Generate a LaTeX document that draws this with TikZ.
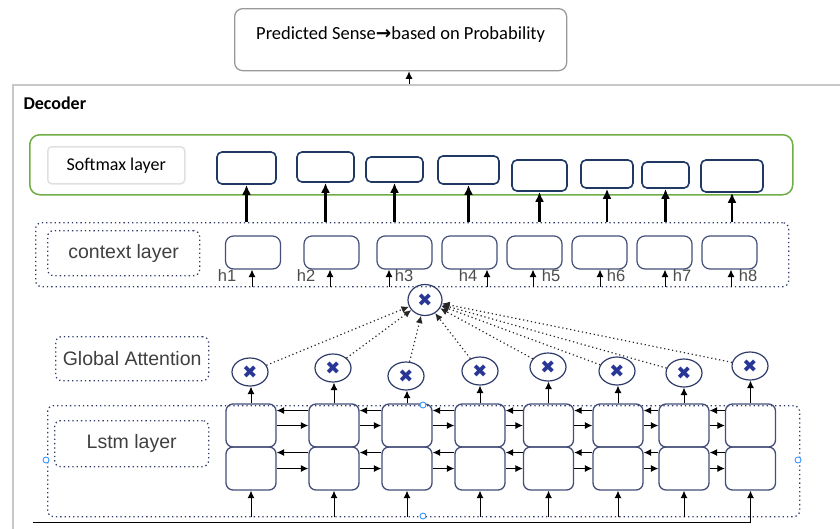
\documentclass[tikz,border=0pt]{standalone}
\usepackage{fontspec}
\setmainfont{Liberation Sans}
\newfontfamily\calib{Carlito}
\newfontfamily\symb{DejaVu Sans}
\usetikzlibrary{shapes.geometric, arrows.meta}

\definecolor{navy}{RGB}{31,56,100}
\definecolor{cellblue}{RGB}{68,78,120}
\definecolor{dotblue}{RGB}{47,59,107}
\definecolor{xblue}{RGB}{40,55,150}
\definecolor{smgreen}{RGB}{112,173,71}
\definecolor{handle}{RGB}{60,150,255}

\tikzset{
	layerbox/.style={draw=dotblue, dash pattern=on 1.3pt off 3pt, line width=1.3pt, rounded corners=6pt, anchor=north west},
	labelbox/.style={layerbox, font=\fontsize{19.5}{22}\selectfont, text=black!75},
	smcell/.style={draw=navy, line width=1.6pt, rounded corners=5pt},
	ctxcell/.style={draw=cellblue, line width=1.2pt, rounded corners=8pt, minimum width=55pt, minimum height=33pt},
	lstmcell/.style={draw=cellblue, line width=1.3pt, rounded corners=7pt, minimum width=50pt, minimum height=43pt},
	mult/.style={ellipse, draw=dotblue, line width=1.2pt, minimum width=36pt, minimum height=28pt, inner sep=0pt, font=\symb\fontsize{18}{18}\selectfont, text=xblue},
	hlabel/.style={font=\fontsize{16.5}{16.5}\selectfont, text=black!70, inner sep=0pt},
	up/.style={-{Latex[length=7.5pt, width=7pt]}, line width=1pt},
	thickup/.style={-{Latex[length=10pt, width=9pt]}, line width=2.4pt},
	attn/.style={-{Latex[length=7.5pt, width=7pt]}, dash pattern=on 1.2pt off 2.8pt, line width=1.2pt, draw=black!85}
}

\begin{document}
\begin{tikzpicture}[x=1pt, y=-1pt]
	\clip (0,0) rectangle (840,528);

	% output
	\node (pred)[draw=black!40, line width=1.3pt, rounded corners=8pt, minimum width=332pt, minimum height=62pt, text depth=14pt, font=\calib\fontsize{18.5}{18.5}\selectfont, anchor=north west] at (234,8) {Predicted Sense{\symb\bfseries →}based on Probability};
	\node (dec)[draw=black!22, line width=1.8pt, minimum width=850pt, minimum height=460pt, anchor=north west] at (12,84) {};
	\node (declabel)[font=\calib\bfseries\fontsize{18}{18}\selectfont, anchor=west] at (20,103) {Decoder};
	\coordinate (decout) at (409,84);
	\draw [up](decout) -- (decout |- pred.south);

	% softmax layer
	\node (smlayer)[draw=smgreen, line width=1.5pt, rounded corners=10pt, minimum width=763pt, minimum height=60pt, anchor=north west] at (29,134) {};
	\node (smlabel)[draw=black!12, line width=1.5pt, rounded corners=4pt, minimum width=137pt, minimum height=37pt, anchor=north west, font=\calib\fontsize{18}{18}\selectfont] at (47,146) {Softmax layer};
	\foreach \i/\cx/\cy/\w/\h in {1/246.5/168/59/32, 2/325.5/167/57/30, 3/394.5/169.5/57/25, 4/468.5/170/61/28, 5/539.5/175.5/55/31, 6/607/174/52/28, 7/665.5/175/47/26, 8/732/176/62/32}
		\node (sm\i)[smcell, minimum width=\w pt, minimum height=\h pt] at (\cx,\cy) {};

	% context layer
	\node (ctxlayer)[layerbox, minimum width=753pt, minimum height=64pt] at (35,222) {};
	\node (ctxlabel)[labelbox, minimum width=152pt, minimum height=45pt] at (47,230) {context layer};
	\foreach \i/\cx/\ax/\lx in {1/253/252/227, 2/331.5/330/306, 3/404.5/389/404, 4/469.5/487/468, 5/534.5/533/551, 6/599.5/600/616, 7/664.5/665/682, 8/729.5/731/748} {
		\node (ctx\i)[ctxcell] at (\cx,252.5) {};
		\node (hl\i)[hlabel] at (\lx,276) {h\i};
		\coordinate (hin\i) at (\ax,287);
		\draw [up](hin\i) -- (hin\i |- ctx\i.south);
		\draw [thickup](sm\i.south |- ctxlayer.north) -- (sm\i.south);
	}

	% attention
	\node (att)[mult, minimum width=34pt, minimum height=31pt] at (425,300) {✖};
	\node (galabel)[labelbox, minimum width=153pt, minimum height=44pt] at (55,336) {Global Attention};

	% lstm layer
	\node (lstmlayer)[layerbox, minimum width=752pt, minimum height=111pt] at (47,405) {};
	\node (lstmlabel)[labelbox, minimum width=154pt, minimum height=46pt] at (54,420) {Lstm layer};
	\foreach \i/\cx/\mx/\my in {1/251/250/372, 2/334/333/368, 3/407/406/376, 4/480/480/371, 5/548.5/548/367, 6/618/617/371, 7/684/684/373, 8/750.5/750/366} {
		\node (lt\i)[lstmcell] at (\cx,425.5) {};
		\node (lb\i)[lstmcell] at (\cx,468.5) {};
		\node (m\i)[mult] at (\mx,\my) {✖};
		\draw [up](lt\i.north) -- (lt\i.north |- m\i.south);
		\draw [attn](m\i) -- (att);
	}
	\foreach \i/\j in {1/2, 2/3, 3/4, 4/5, 5/6, 6/7, 7/8} {
		\draw [up](lt\i.east) -- (lt\j.west);
		\draw [up]([yshift=15pt]lt\j.west) -- ([yshift=15pt]lt\i.east);
		\draw [up](lb\i.east) -- (lb\j.west);
		\draw [up]([yshift=16pt]lb\j.west) -- ([yshift=16pt]lb\i.east);
	}
	\foreach \i in {1,...,7} {
		\coordinate (in\i) at (lb\i.south |- lstmlayer.south);
		\draw [up](in\i) -- (lb\i.south);
	}
	\coordinate (inleft) at (33,522);
	\draw [up](inleft) -| (lb8.south);

	% handles
	\foreach \p in {(46,460), (798,460), (423,405), (423,516)}
		\draw [handle, fill=white, line width=0.9pt] \p circle (3pt);
\end{tikzpicture}
\end{document}
